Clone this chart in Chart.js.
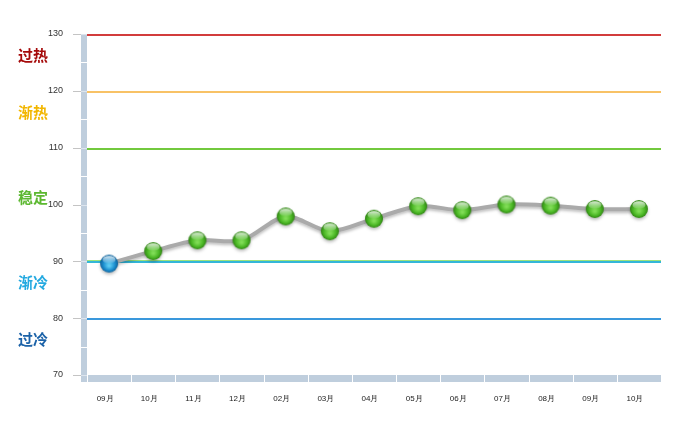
<!DOCTYPE html>
<html>
<head>
<meta charset="utf-8">
<script src="https://cdn.jsdelivr.net/npm/chart.js@4.4.1/dist/chart.umd.min.js"></script>
<style>
    html, body { margin: 0; padding: 0; background: #fff; }
    #wrap { width: 682px; height: 425px; position: relative; }
</style>
</head>
<body>
<div id="wrap"><canvas id="heatChart"></canvas></div>
<script>
// months on the x axis
const months = ['09月', '10月', '11月', '12月', '02月', '03月', '04月', '05月', '06月', '07月', '08月', '09月', '10月'];
// index values
const heatIndex = [89.6, 91.8, 93.7, 93.7, 97.9, 95.3, 97.5, 99.7, 99.0, 100.0, 99.8, 99.2, 99.2];

// y axis range
const yMin = 70;
const yMax = 130;
const yStep = 10;

// zone labels on the left, with the value range each one covers
const zoneNames = ['过热', '渐热', '稳定', '渐冷', '过冷'];
const zoneTop = [130, 120, 110, 90, 80];
const zoneBottom = [120, 110, 90, 80, 70];
const zoneColors = ['#a50a0a', '#f2b600', '#5cb830', '#23a9e0', '#1b62a8'];

// limit lines
const limitValues = [130, 120, 110, 90, 80];
const limitColors = ['#d23c3c', '#f8c266', '#72c93e', '#34b6d8', '#3a98dc'];

const wallColor = '#bfcedd';

// small 3d ball images for the points
function makeBall(dark, mid, light) {
    const c = document.createElement('canvas');
    c.width = 20; c.height = 20;
    const g = c.getContext('2d');
    const grd = g.createRadialGradient(10, 12, 1, 10, 10, 9.5);
    grd.addColorStop(0, light);
    grd.addColorStop(0.55, mid);
    grd.addColorStop(1, dark);
    g.fillStyle = grd;
    g.beginPath(); g.arc(10, 10, 9, 0, Math.PI * 2); g.fill();
    const hl = g.createLinearGradient(0, 2, 0, 10);
    hl.addColorStop(0, 'rgba(255,255,255,0.85)');
    hl.addColorStop(1, 'rgba(255,255,255,0.05)');
    g.fillStyle = hl;
    g.beginPath(); g.ellipse(10, 6, 6.5, 3.8, 0, 0, Math.PI * 2); g.fill();
    return c;
}
const greenBall = makeBall('#2b7d10', '#4cb826', '#7fdc55');
const blueBall = makeBall('#0b5a92', '#1d90d0', '#5ccaf2');

// wall, floor, limit lines and zone labels
const framePlugin = {
    id: 'frame',
    beforeDatasetsDraw(chart) {
        const ctx = chart.ctx;
        const area = chart.chartArea;
        const y = chart.scales.y;
        const x = chart.scales.x;
        const wallL = area.left - 6;
        const floorB = area.bottom + 7;
        ctx.save();
        // left wall
        ctx.fillStyle = wallColor;
        ctx.fillRect(wallL, area.top, 6, floorB - area.top);
        // floor
        ctx.fillRect(area.left, area.bottom, area.right - area.left, 7);
        // white breaks in the wall every half step
        ctx.fillStyle = '#ffffff';
        for (let v = yMin + yStep / 2; v < yMax; v += yStep) {
            ctx.fillRect(wallL, Math.round(y.getPixelForValue(v)), 6, 1);
        }
        // white breaks in the floor between categories
        for (let i = 0; i < months.length; i++) {
            const bx = Math.round(area.left + i * (area.right - area.left) / months.length);
            ctx.fillRect(bx, area.bottom, 1, 7);
        }
        // tick marks
        for (let v = yMin; v <= yMax; v += yStep) {
            const py = Math.round(y.getPixelForValue(v)) + 0.5;
            ctx.strokeStyle = '#c4c4c4';
            ctx.lineWidth = 1;
            ctx.beginPath(); ctx.moveTo(wallL - 8, py); ctx.lineTo(wallL, py); ctx.stroke();
            ctx.strokeStyle = '#dde5ee';
            ctx.beginPath(); ctx.moveTo(wallL, py); ctx.lineTo(area.left, py); ctx.stroke();
        }
        // limit lines
        limitValues.forEach((v, i) => {
            const py = Math.round(y.getPixelForValue(v));
            if (v === 90) {
                ctx.fillStyle = '#9ee27a';
                ctx.fillRect(area.left, py - 1, area.right - area.left, 1);
            }
            ctx.fillStyle = limitColors[i];
            ctx.fillRect(area.left, py, area.right - area.left, 2);
        });
        // zone labels
        ctx.font = 'bold 15px "Noto Sans CJK SC", sans-serif';
        ctx.textAlign = 'left';
        ctx.textBaseline = 'middle';
        zoneNames.forEach((name, i) => {
            const mid = (y.getPixelForValue(zoneTop[i]) + y.getPixelForValue(zoneBottom[i])) / 2;
            ctx.fillStyle = zoneColors[i];
            ctx.fillText(name, 18, mid - 7);
        });
        ctx.restore();
        // shadow for the line and balls
        ctx.save();
        ctx.shadowColor = 'rgba(0,0,0,0.25)';
        ctx.shadowBlur = 3;
        ctx.shadowOffsetY = 2;
    },
    afterDatasetsDraw(chart) {
        chart.ctx.restore();
    }
};

const heatCtx = document.getElementById('heatChart').getContext('2d');
const heatChart = new Chart(heatCtx, {
    type: 'line',
    data: {
        labels: months,
        datasets: [{
            data: heatIndex,
            borderColor: '#aaaaaa',
            borderWidth: 4,
            tension: 0.3,
            fill: false,
            clip: false,
            pointStyle: (c) => c.dataIndex === 0 ? blueBall : greenBall,
            pointRadius: 9,
            pointHoverRadius: 9
        }]
    },
    options: {
        responsive: true,
        maintainAspectRatio: false,
        animation: false,
        layout: { padding: { left: 0, right: 21, top: 34, bottom: 0 } },
        plugins: {
            legend: { display: false },
            tooltip: { enabled: false }
        },
        scales: {
            x: {
                offset: true,
                grid: { display: false, drawTicks: false },
                border: { display: false },
                ticks: {
                    padding: 19,
                    labelOffset: -4,
                    color: '#222',
                    font: { family: 'Liberation Sans', size: 8 },
                    maxRotation: 0,
                    autoSkip: false
                },
                afterFit(scale) { scale.height = 50; }
            },
            y: {
                min: yMin,
                max: yMax,
                grid: { display: false, drawTicks: false },
                border: { display: false },
                ticks: {
                    stepSize: yStep,
                    padding: 24,
                    color: '#333',
                    font: { family: 'Liberation Sans', size: 9 }
                },
                afterFit(scale) { scale.width = 87; }
            }
        }
    },
    plugins: [framePlugin]
});
</script>
</body>
</html>
